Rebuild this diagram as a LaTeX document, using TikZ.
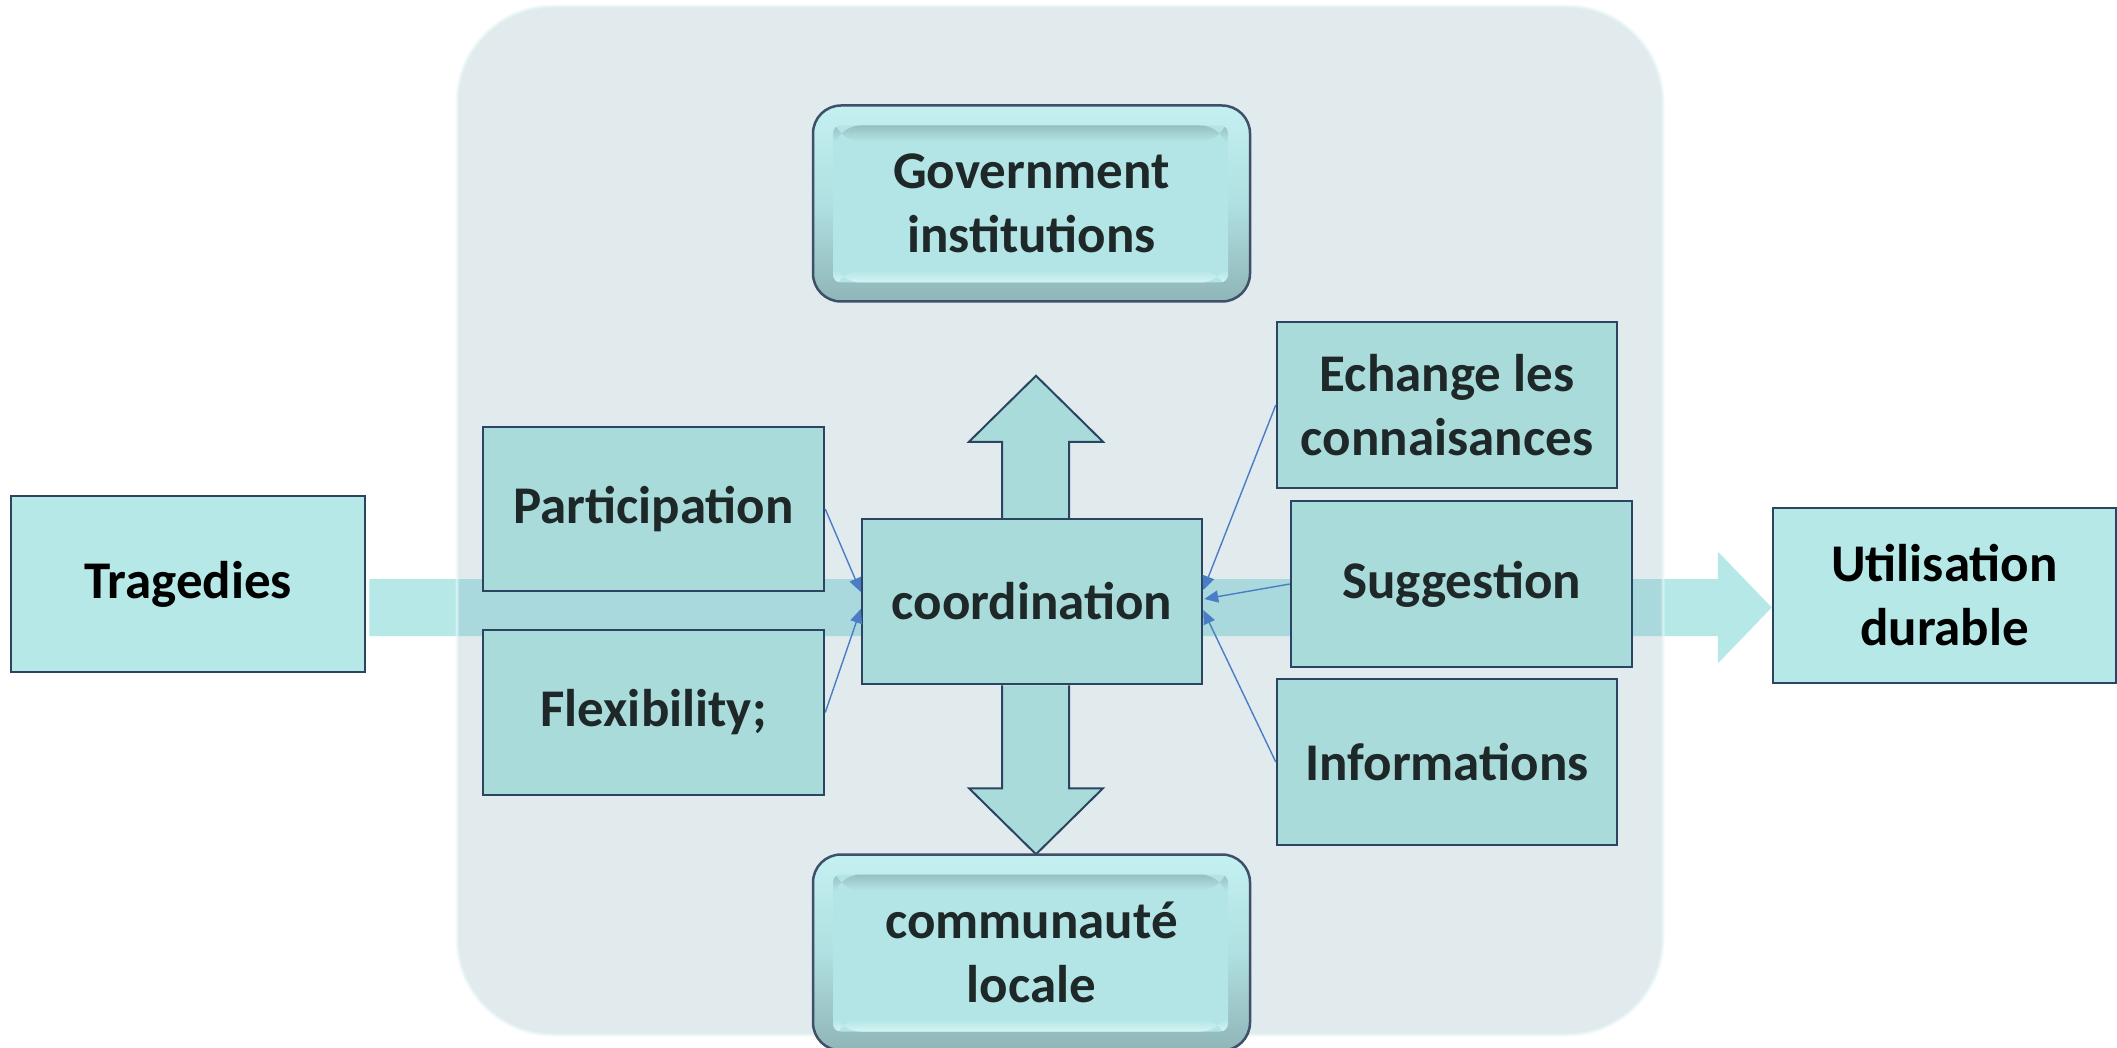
\documentclass[tikz,border=0pt]{standalone}
\usepackage{fontspec}
\setmainfont{Carlito}
\usetikzlibrary{arrows.meta,calc}

\definecolor{panelc}{RGB}{130,173,182}
\definecolor{bandc}{HTML}{B6E8E8}
\definecolor{innerfill}{HTML}{AADBDB}
\definecolor{outerfill}{HTML}{B6E8E8}
\definecolor{bordc}{HTML}{2B4461}
\definecolor{txtc}{HTML}{1E2829}
\definecolor{linkc}{HTML}{4A7DC6}
\definecolor{bevtop}{HTML}{C4F0F1}
\definecolor{bevmid}{HTML}{B0E0E1}
\definecolor{bevbot}{HTML}{8FB5B8}
\definecolor{bevin}{HTML}{B4E5E6}
\definecolor{bevdark}{HTML}{97BFC0}
\definecolor{bevlight}{HTML}{D6F4F4}
\definecolor{bevbord}{HTML}{3E5068}
\definecolor{glowc}{HTML}{EAF7F8}

\tikzset{
  txt/.style={font=\fontsize{53}{64}\selectfont\bfseries, align=center, inner sep=0pt},
  inbox/.style={txt, rectangle, draw=bordc, line width=2.5pt, fill=innerfill, text=txtc},
  outbox/.style={txt, rectangle, draw=bordc, line width=2.5pt, fill=outerfill, text=black},
  bevelbox/.style={txt, rectangle, rounded corners=28pt, draw=bevbord, line width=2.5pt,
    top color=bevtop, bottom color=bevbot, middle color=bevmid, text=txtc,
    minimum width=437pt, minimum height=196pt,
    path picture={
      \coordinate (pa) at ($(path picture bounding box.south west)+(20,-19)$);
      \coordinate (pb) at ($(path picture bounding box.north east)+(-22,20)$);
      \fill[rounded corners=8pt, bevin] (pa) rectangle (pb);
      \begin{scope}
        \clip[rounded corners=8pt] (pa) rectangle (pb);
        \shade[top color=bevdark, bottom color=bevin] (pa |- pb) rectangle ($(pb)+(0,16)$);
        \shade[top color=bevin, bottom color=bevlight] ($(pa)+(0,-12)$) rectangle (pb |- pa);
      \end{scope}
    }},
  link/.style={draw=linkc, line width=1.4pt, -{Triangle[length=14pt,width=12pt]}},
  bigarrow/.style={draw=bordc, line width=2pt, fill=innerfill, line join=miter},
}

\begin{document}
\begin{tikzpicture}[x=1pt,y=-1pt]
\useasboundingbox (0,0) rectangle (2117,1048);
\fill[white] (0,0) rectangle (2117,1048);

% nodes
\node[outbox, minimum width=354pt, minimum height=176pt] (trag) at (188,584) {Tragedies};
\node[outbox, minimum width=343pt, minimum height=175pt] (util) at (1944.5,595.5) {Utilisation\\durable};

% horizontal band
\coordinate (bandS) at ($(trag.east)+(3,23.5)$);
\coordinate (bandE) at (util.west |- bandS);
\fill[bandc] ($(bandS)+(0,-28.5)$) -- ($(bandE)+(-54,-28.5)$) -- ($(bandE)+(-54,-56)$) -- (bandE)
  -- ($(bandE)+(-54,56)$) -- ($(bandE)+(-54,28.5)$) -- ($(bandS)+(0,28.5)$) -- cycle;

% panel
\fill[panelc, fill opacity=0.24, rounded corners=96pt] (457,6) rectangle (1663,1035);
\draw[glowc, line width=3pt, draw opacity=0.6, rounded corners=96pt] (457,6) rectangle (1663,1035);

\node[inbox, minimum width=340pt, minimum height=165pt] (coord) at (1032,601.5) {coordination};

% vertical arrows
\draw[bigarrow] ($(coord.north)+(-30,0)$) -- ($(coord.north)+(-30,-76)$) -- ($(coord.north)+(-63,-76)$)
  -- ($(coord.north)+(4,-142)$) -- ($(coord.north)+(71,-76)$) -- ($(coord.north)+(37,-76)$)
  -- ($(coord.north)+(37,0)$);
\draw[bigarrow] ($(coord.south)+(-30,0)$) -- ($(coord.south)+(-30,103)$) -- ($(coord.south)+(-63,103)$)
  -- ($(coord.south)+(4,169)$) -- ($(coord.south)+(71,103)$) -- ($(coord.south)+(37,103)$)
  -- ($(coord.south)+(37,0)$);
\node[inbox, minimum width=340pt, minimum height=165pt] at (coord) {coordination};

\node[inbox, minimum width=341pt, minimum height=164pt] (par) at (653.5,509) {Participation};
\node[inbox, minimum width=341pt, minimum height=165pt] (flex) at (653.5,712.5) {Flexibility;};
\node[inbox, minimum width=340pt, minimum height=166pt] (ech) at (1447,405) {Echange les\\connaisances};
\node[inbox, minimum width=341pt, minimum height=166pt] (sug) at (1461.5,584) {Suggestion};
\node[inbox, minimum width=340pt, minimum height=166pt] (inf) at (1447,762) {Informations};

\node[bevelbox] (gov) at (1031.5,203.5) {Government\\institutions};
\node[bevelbox] (com) at (1031.5,952.5) {communauté\\locale};

% connectors
\draw[link] (par.east) -- ($(coord.west)+(0,-9.5)$);
\draw[link] (flex.east) -- ($(coord.west)+(0,7.5)$);
\draw[link] (ech.west) -- ($(coord.east)+(0,-11.5)$);
\draw[link] (sug.west) -- ($(coord.east)+(1,-2.5)$);
\draw[link] (inf.west) -- ($(coord.east)+(0,8.5)$);
\end{tikzpicture}
\end{document}
